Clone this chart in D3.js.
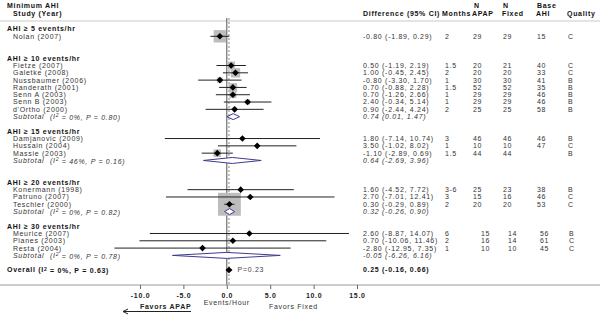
<!DOCTYPE html>
<html lang="en">
<head>
  <meta charset="UTF-8">
  <title>Forest plot - Minimum AHI</title>
  <script src="https://cdn.jsdelivr.net/npm/d3@7"></script>
  <style>
    body { margin: 0; background: #fff; }
    svg { display: block; font-family: "Liberation Sans", Arial, sans-serif; }
    text { font-size: 7px; letter-spacing: 0.7px; }
  </style>
</head>
<body>
<svg></svg>
<script>
  const width = 600, height = 316

  // groups
  const groupLabels = ['AHI ≥ 5 events/hr', 'AHI ≥ 10 events/hr', 'AHI ≥ 15 events/hr', 'AHI ≥ 20 events/hr', 'AHI ≥ 30 events/hr']
  const groupRow = [0, 4, 14, 21, 27]   // row where each group starts
  const subEst = [null, 0.74, 0.64, 0.32, -0.05]
  const subLo = [null, 0.01, -2.69, -0.26, -6.26]
  const subHi = [null, 1.47, 3.96, 0.90, 6.16]
  const subI2 = [null, '0%', '46%', '0%', '0%']
  const subP = [null, '0.80', '0.16', '0.82', '0.78']

  // studies
  const studies = ['Nolan (2007)',
    'Fietze (2007)', 'Galetke (2008)', 'Nussbaumer (2006)', 'Randerath (2001)', 'Senn A (2003)', 'Senn B (2003)', "d'Ortho (2000)",
    'Damjanovic (2009)', 'Hussain (2004)', 'Massie (2003)',
    'Konermann (1998)', 'Patruno (2007)', 'Teschler (2000)',
    'Meurice (2007)', 'Planes (2003)', 'Resta (2004)']
  const group = [0, 1, 1, 1, 1, 1, 1, 1, 2, 2, 2, 3, 3, 3, 4, 4, 4]
  const est = [-0.80, 0.50, 1.00, -0.80, 0.70, 0.70, 2.40, 0.90, 1.80, 3.50, -1.10, 1.60, 2.70, 0.30, 2.60, 0.70, -2.80]
  const lo = [-1.89, -1.19, -0.45, -3.30, -0.88, -1.26, -0.34, -2.44, -7.14, -1.02, -2.89, -4.52, -7.01, -0.29, -8.87, -10.06, -12.95]
  const hi = [0.29, 2.19, 2.45, 1.70, 2.28, 2.66, 5.14, 4.24, 10.74, 8.02, 0.69, 7.72, 12.41, 0.89, 14.07, 11.46, 7.35]
  const months = ['2', '1.5', '2', '1', '1.5', '1', '1', '2', '3', '1', '1.5', '3-6', '3', '2', '6', '2', '1']
  const nApap = [29, 20, 20, 30, 52, 29, 29, 25, 46, 10, 44, 25, 15, 20, 15, 16, 10]
  const nFixed = [29, 21, 20, 30, 52, 29, 29, 25, 46, 10, 44, 23, 16, 20, 14, 14, 10]
  const baseAhi = ['15', '40', '33', '41', '35', '46', '46', '58', '46', '47', '', '38', '46', '53', '56', '61', '45']
  const quality = ['C', 'C', 'C', 'B', 'B', 'B', 'B', 'B', 'B', 'C', 'B', 'B', 'C', 'C', 'B', 'C', 'C']

  // overall
  const overall = {est: 0.25, lo: -0.16, hi: 0.66, i2: '0%', p: '0.63', pz: '0.23'}
  const overallRow = 33

  const xTicks = [-10, -5, 0, 5, 10, 15]

  const svg = d3.select('svg')
      .attr('width', width)
      .attr('height', height)
      .attr('viewBox', [0, 0, width, height])

  const x = d3.scaleLinear().domain([-10, 15]).range([140, 357])
  const y = d3.scaleLinear().domain([0, 33]).range([29, 270])

  const fmt = v => v.toFixed(2)
  const ciText = (e, l, h) => `${fmt(e)} (${fmt(l)}, ${fmt(h)})`

  // row index of each study
  const studyRow = studies.map((s, i) => groupRow[group[i]] + 1 + group.slice(0, i).filter(g => g === group[i]).length)
  const subRow = groupRow.map((r, g) => r + 1 + group.filter(d => d === g).length)

  // column positions
  const col = {diff: 363, months: 443, napap: 473, nfixed: 503, base: 537, quality: 568}

  // header
  const head = svg.append('g').attr('font-weight', 'bold').attr('fill', '#111').attr('letter-spacing', 0.3)
  head.append('text').attr('x', 7).attr('y', 8).attr('letter-spacing', 0.5).text('Minimum AHI')
  head.append('text').attr('x', 13).attr('y', 16).attr('letter-spacing', 0.5).text('Study (Year)')
  head.append('text').attr('x', col.diff).attr('y', 16).text('Difference (95% CI)')
  head.append('text').attr('x', col.months - 1).attr('y', 16).attr('letter-spacing', 0).text('Months')
  head.append('text').attr('x', col.napap + 1).attr('y', 8).text('N')
  head.append('text').attr('x', col.napap - 1).attr('y', 16).text('APAP')
  head.append('text').attr('x', col.nfixed).attr('y', 8).text('N')
  head.append('text').attr('x', col.nfixed - 1).attr('y', 16).text('Fixed')
  head.append('text').attr('x', col.base).attr('y', 8).text('Base')
  head.append('text').attr('x', col.base - 1).attr('y', 16).text('AHI')
  head.append('text').attr('x', col.quality - 1).attr('y', 16).text('Quality')

  svg.append('line')
      .attr('x1', 0).attr('x2', width).attr('y1', 21).attr('y2', 21)
      .attr('stroke', '#e4e4e4').attr('stroke-width', 2)

  // reference lines
  svg.append('line')
      .attr('x1', x(0)).attr('x2', x(0)).attr('y1', 18).attr('y2', 285)
      .attr('stroke', '#555')
  svg.append('line')
      .attr('x1', x(overall.est)).attr('x2', x(overall.est)).attr('y1', 18).attr('y2', 285)
      .attr('stroke', '#888').attr('stroke-dasharray', '2,2')

  // group labels
  svg.append('g').selectAll('text')
      .data(groupLabels)
      .join('text')
      .attr('x', 7)
      .attr('y', (d, i) => y(groupRow[i]))
      .attr('dy', '0.35em')
      .attr('font-weight', 'bold')
      .attr('letter-spacing', 0.6)
      .attr('fill', '#111')
      .text(d => d)

  // weight squares
  svg.append('g').selectAll('rect')
      .data(studies)
      .join('rect')
      .attr('x', (d, i) => x(est[i]) - 13.5 / (hi[i] - lo[i]))
      .attr('y', (d, i) => y(studyRow[i]) - 13.5 / (hi[i] - lo[i]))
      .attr('width', (d, i) => 27 / (hi[i] - lo[i]))
      .attr('height', (d, i) => 27 / (hi[i] - lo[i]))
      .attr('fill', '#bdbdbd')

  // CI lines
  svg.append('g').selectAll('line')
      .data(studies)
      .join('line')
      .attr('x1', (d, i) => x(lo[i]))
      .attr('x2', (d, i) => x(hi[i]))
      .attr('y1', (d, i) => y(studyRow[i]))
      .attr('y2', (d, i) => y(studyRow[i]))
      .attr('stroke', '#222')

  // point diamonds
  const pt = (cx, cy, r) => `M${cx - r},${cy}L${cx},${cy - r}L${cx + r},${cy}L${cx},${cy + r}Z`
  svg.append('g').selectAll('path')
      .data(studies)
      .join('path')
      .attr('d', (d, i) => pt(x(est[i]), y(studyRow[i]), 3.3))
      .attr('fill', '#000')

  // subtotal diamonds
  const dia = (l, e, h, cy, r) => `M${x(l)},${cy}L${x(e)},${cy - r}L${x(h)},${cy}L${x(e)},${cy + r}Z`
  svg.append('g').selectAll('path')
      .data(groupLabels.map((d, g) => g).filter(g => subEst[g] !== null))
      .join('path')
      .attr('d', g => dia(subLo[g], subEst[g], subHi[g], y(subRow[g]), 3))
      .attr('fill', '#fff')
      .attr('stroke', '#3c3c8e')

  // overall diamond
  svg.append('path')
      .attr('d', dia(overall.lo, overall.est, overall.hi, y(overallRow), 3.3))
      .attr('fill', '#000')
  svg.append('text')
      .attr('x', x(overall.hi) + 5).attr('y', y(overallRow)).attr('dy', '0.35em')
      .attr('fill', '#444')
      .text(`P=${overall.pz}`)

  // study rows: names and columns
  const rows = svg.append('g').attr('fill', '#333')
  studies.forEach((s, i) => {
    const yy = y(studyRow[i])
    const shift = group[i] === 4 ? [0, 8, 5, 3, 1] : [0, 0, 0, 0, 0]
    const cells = [
      [13, s],
      [col.diff, ciText(est[i], lo[i], hi[i])],
      [col.months + 2, months[i]],
      [col.napap + shift[1], nApap[i]],
      [col.nfixed + shift[2], nFixed[i]],
      [col.base + shift[3], baseAhi[i]],
      [col.quality + shift[4], quality[i]]
    ]
    cells.forEach(([cx, t]) => rows.append('text')
        .attr('x', cx).attr('y', yy).attr('dy', '0.35em').text(t))
  })

  // subtotal rows
  groupLabels.forEach((d, g) => {
    if (subEst[g] === null) return
    const yy = y(subRow[g])
    const t = svg.append('text')
        .attr('x', 13).attr('y', yy).attr('dy', '0.35em')
        .attr('font-style', 'italic').attr('fill', '#333')
    t.append('tspan').text('Subtotal')
    t.append('tspan').attr('x', 50).text('(I')
    t.append('tspan').attr('dy', '-0.35em').attr('font-size', '5px').text('2')
    t.append('tspan').attr('dy', '0.35em').text(` = ${subI2[g]}, P = ${subP[g]})`)
    svg.append('text')
        .attr('x', col.diff).attr('y', yy).attr('dy', '0.35em')
        .attr('font-style', 'italic').attr('fill', '#333')
        .text(ciText(subEst[g], subLo[g], subHi[g]))
  })

  // overall row
  const ov = svg.append('text')
      .attr('x', 7).attr('y', y(overallRow)).attr('dy', '0.35em')
      .attr('font-weight', 'bold').attr('letter-spacing', 0.6).attr('fill', '#111')
  ov.append('tspan').text('Overall  (I')
  ov.append('tspan').attr('dy', '-0.35em').attr('font-size', '5px').text('2')
  ov.append('tspan').attr('dy', '0.35em').text(` = ${overall.i2}, P = ${overall.p})`)
  svg.append('text')
      .attr('x', col.diff).attr('y', y(overallRow)).attr('dy', '0.35em')
      .attr('font-weight', 'bold').attr('fill', '#111')
      .text(ciText(overall.est, overall.lo, overall.hi))

  // x axis
  svg.append('line')
      .attr('x1', 0).attr('x2', width).attr('y1', 285).attr('y2', 285)
      .attr('stroke', '#999')
  svg.append('g')
      .attr('transform', 'translate(0,285)')
      .call(d3.axisBottom(x).tickValues(xTicks).tickFormat(d => d.toFixed(1)).tickSize(4).tickPadding(4))
      .call(g => g.select('.domain').remove())
      .call(g => g.selectAll('.tick line').attr('stroke', '#666'))
      .call(g => g.selectAll('.tick text')
          .attr('font-family', null).attr('font-size', null)
          .attr('font-weight', 'bold').attr('fill', '#222'))

  svg.append('text')
      .attr('x', x(0)).attr('y', 305)
      .attr('text-anchor', 'middle').attr('font-size', '6.5px').attr('letter-spacing', 0)
      .attr('fill', '#333')
      .text('Events/Hour')
  svg.append('text')
      .attr('x', 140).attr('y', 309)
      .attr('font-weight', 'bold').attr('fill', '#222')
      .text('Favors APAP')
  svg.append('text')
      .attr('x', 269).attr('y', 309)
      .attr('fill', '#333')
      .text('Favors Fixed')

  // arrow under Favors APAP
  svg.append('line')
      .attr('x1', 124).attr('x2', 191).attr('y1', 311.5).attr('y2', 311.5)
      .attr('stroke', '#222')
  svg.append('path')
      .attr('d', 'M123,311.5L128,309M123,311.5L128,314')
      .attr('stroke', '#222').attr('fill', 'none')
</script>
</body>
</html>
